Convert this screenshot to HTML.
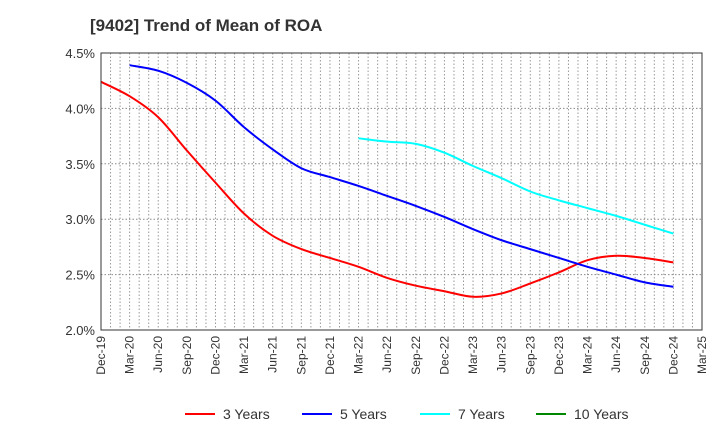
<!DOCTYPE html>
<html><head><meta charset="utf-8"><style>
body{margin:0;background:#fff;font-family:"Liberation Sans",sans-serif}
</style></head><body>
<svg id="c" width="720" height="440" xmlns="http://www.w3.org/2000/svg">
<text x="90" y="31" font-size="17" font-weight="bold" fill="#333">[9402]  Trend of Mean of ROA</text>
<g id="grid"></g><g id="series"></g><g id="axes"></g>
<g font-size="14" fill="#333">
<line x1="185" y1="414" x2="215" y2="414" stroke="#f00" stroke-width="2"/><text x="223" y="419">3 Years</text>
<line x1="302" y1="414" x2="332" y2="414" stroke="#00f" stroke-width="2"/><text x="340" y="419">5 Years</text>
<line x1="420" y1="414" x2="450" y2="414" stroke="#0ff" stroke-width="2"/><text x="458" y="419">7 Years</text>
<line x1="536" y1="414" x2="566" y2="414" stroke="#080" stroke-width="2"/><text x="574" y="419">10 Years</text>
</g>
</svg>
<script>
const xLabels=["Dec-19","Mar-20","Jun-20","Sep-20","Dec-20","Mar-21","Jun-21","Sep-21","Dec-21","Mar-22","Jun-22","Sep-22","Dec-22","Mar-23","Jun-23","Sep-23","Dec-23","Mar-24","Jun-24","Sep-24","Dec-24","Mar-25"];
const yTicks=[2.0,2.5,3.0,3.5,4.0,4.5];
const s3=[4.24,4.11,3.92,3.62,3.33,3.05,2.85,2.73,2.65,2.57,2.47,2.40,2.35,2.30,2.33,2.42,2.52,2.63,2.67,2.65,2.61];
const s5=[null,4.39,4.34,4.23,4.07,3.83,3.63,3.46,3.38,3.30,3.21,3.12,3.02,2.91,2.81,2.73,2.65,2.57,2.50,2.43,2.39];
const s7=[null,null,null,null,null,null,null,null,null,3.73,3.70,3.68,3.60,3.48,3.37,3.25,3.17,3.10,3.03,2.95,2.87];
const s10=[];
const L=101,R=702,T=53,B=330,NS="http://www.w3.org/2000/svg";
const xs=i=>L+i*(R-L)/21;
const ys=v=>B-(v-2.0)/2.5*(B-T);
function mk(tag,at,parent){const e=document.createElementNS(NS,tag);for(const k in at)e.setAttribute(k,at[k]);parent.appendChild(e);return e;}
const g=document.getElementById('grid'),ax=document.getElementById('axes'),sg=document.getElementById('series');
for(let m=1;m<63;m++){const x=L+m*(R-L)/63;const l=mk('line',{x1:x,x2:x,y1:T,y2:B,stroke:'#999','stroke-dasharray':'1.5,2','stroke-width':1},g);

}
yTicks.forEach(v=>{const y=ys(v);const l=mk('line',{x1:L,x2:R,y1:y,y2:y,stroke:'#888','stroke-dasharray':'1.5,2'},g);


const t=mk('text',{x:L-6,y:y+5,'text-anchor':'end','font-size':13,fill:'#333'},ax);t.textContent=v.toFixed(1)+'%';

});
const fr=mk('rect',{x:L,y:T,width:R-L,height:B-T,fill:'none',stroke:'#333','stroke-width':1},ax);


xLabels.forEach((s,i)=>{const x=xs(i);const t=mk('text',{transform:`translate(${x+4},${B+6}) rotate(-90)`,'text-anchor':'end','font-size':12,fill:'#333'},ax);t.textContent=s;

});
function path(arr,color,name){const p=[];arr.forEach((v,i)=>{if(v!=null)p.push([xs(i),ys(v)]);});if(p.length<2)return;
let d=`M${p[0][0]},${p[0][1]}`;for(let i=0;i<p.length-1;i++){const p0=p[i-1]||p[i],p1=p[i],p2=p[i+1],p3=p[i+2]||p2;
d+=` C${p1[0]+(p2[0]-p0[0])/6},${p1[1]+(p2[1]-p0[1])/6} ${p2[0]-(p3[0]-p1[0])/6},${p2[1]-(p3[1]-p1[1])/6} ${p2[0]},${p2[1]}`;}
const e=mk('path',{d:d,fill:'none',stroke:color,'stroke-width':2},sg);

}
path(s3,'#f00','line-3-years');path(s5,'#00f','line-5-years');path(s7,'#0ff','line-7-years');path(s10,'#080','line-10-years');
</script>
</body></html>
